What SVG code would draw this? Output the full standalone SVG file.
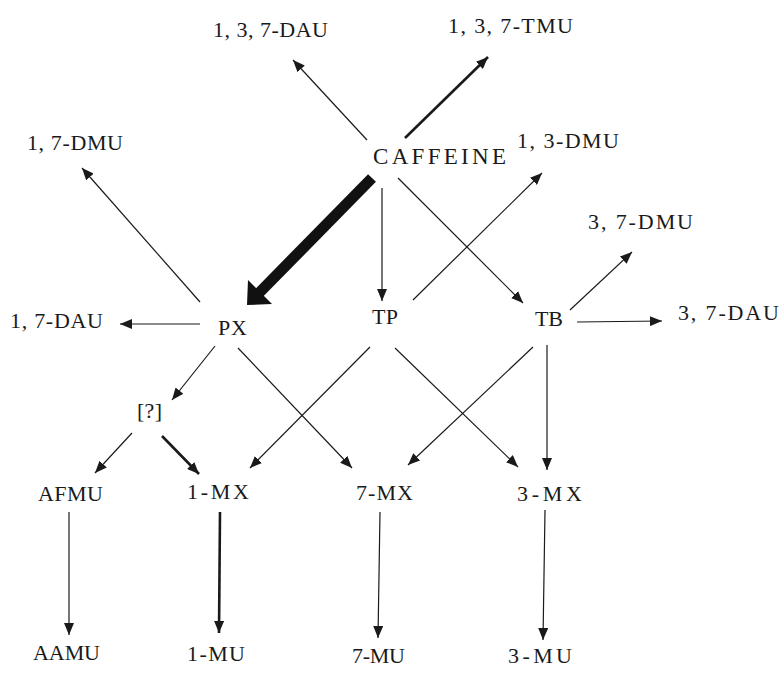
<svg xmlns="http://www.w3.org/2000/svg" width="782" height="673" viewBox="0 0 782 673">
<style>
  .lbl { font-family: "Liberation Serif", "Times New Roman", serif; font-size: 22px; fill: #1a1a1a; text-anchor: start; }
  .big { font-size: 23px; }
  .c { fill: none; stroke: #1a1a1a; stroke-width: 1.2; marker-end: url(#ah); }
  .m { stroke-width: 2.6; }
</style>
<defs>
  <marker id="ah" markerUnits="userSpaceOnUse" markerWidth="12" markerHeight="10" refX="12" refY="5" orient="auto">
    <path d="M0,0 L12,5 L0,10 z" fill="#1a1a1a"/>
  </marker>
</defs>
<rect width="782" height="673" fill="#ffffff"/>

<g id="connectors">
  <line class="c" x1="367" y1="140" x2="293" y2="60"/>
  <line class="c m" x1="405" y1="138" x2="488" y2="57"/>
  <g id="thick-arrow">
    <line x1="372" y1="178" x2="259" y2="293" stroke="#111" stroke-width="11"/>
    <polygon points="247,305 248,280 272,304" fill="#111"/>
  </g>
  <line class="c" x1="382" y1="188" x2="382" y2="301"/>
  <line class="c" x1="398" y1="178" x2="523" y2="303"/>
  <line class="c" x1="200" y1="302" x2="82" y2="168"/>
  <line class="c" x1="200" y1="324" x2="120" y2="324"/>
  <line class="c" x1="413" y1="300" x2="542" y2="173"/>
  <line class="c" x1="570" y1="310" x2="632" y2="252"/>
  <line class="c" x1="577" y1="322" x2="662" y2="321"/>
  <line class="c" x1="215" y1="346" x2="172" y2="400"/>
  <line class="c" x1="238" y1="348" x2="352" y2="468"/>
  <line class="c" x1="370" y1="347" x2="250" y2="468"/>
  <line class="c" x1="395" y1="348" x2="518" y2="467"/>
  <line class="c" x1="533" y1="347" x2="408" y2="465"/>
  <line class="c" x1="547" y1="345" x2="547" y2="470"/>
  <line class="c" x1="132" y1="433" x2="95" y2="473"/>
  <line class="c m" x1="162" y1="436" x2="199" y2="474"/>
  <line class="c" x1="69" y1="512" x2="69" y2="635"/>
  <line class="c m" x1="220" y1="512" x2="219" y2="633"/>
  <line class="c" x1="380" y1="512" x2="378" y2="638"/>
  <line class="c" x1="545" y1="510" x2="543" y2="640"/>
</g>

<g id="n-137dau"><text class="lbl" x="213" y="37" textLength="115" lengthAdjust="spacing">1, 3, 7-DAU</text></g>
<g id="n-137tmu"><text class="lbl" x="448" y="33" textLength="125" lengthAdjust="spacing">1, 3, 7-TMU</text></g>
<g id="n-17dmu"><text class="lbl" x="27" y="150" textLength="96" lengthAdjust="spacing">1, 7-DMU</text></g>
<g id="n-caffeine"><text class="lbl big" x="373" y="164" textLength="133" lengthAdjust="spacing">CAFFEINE</text></g>
<g id="n-13dmu"><text class="lbl" x="517" y="148" textLength="102" lengthAdjust="spacing">1, 3-DMU</text></g>
<g id="n-37dmu"><text class="lbl" x="588" y="229" textLength="105" lengthAdjust="spacing">3, 7-DMU</text></g>
<g id="n-17dau"><text class="lbl" x="10" y="328" textLength="93" lengthAdjust="spacing">1, 7-DAU</text></g>
<g id="n-px"><text class="lbl" x="218" y="335" textLength="29" lengthAdjust="spacing">PX</text></g>
<g id="n-tp"><text class="lbl" x="372" y="324" textLength="26" lengthAdjust="spacing">TP</text></g>
<g id="n-tb"><text class="lbl" x="535" y="326" textLength="28" lengthAdjust="spacing">TB</text></g>
<g id="n-37dau"><text class="lbl" x="678" y="320" textLength="101" lengthAdjust="spacing">3, 7-DAU</text></g>
<g id="n-q"><text class="lbl" x="137" y="418" textLength="25" lengthAdjust="spacing">[?]</text></g>
<g id="n-afmu"><text class="lbl" x="38" y="501" textLength="65" lengthAdjust="spacing">AFMU</text></g>
<g id="n-1mx"><text class="lbl" x="187" y="499" textLength="62" lengthAdjust="spacing">1-MX</text></g>
<g id="n-7mx"><text class="lbl" x="356" y="500" textLength="57" lengthAdjust="spacing">7-MX</text></g>
<g id="n-3mx"><text class="lbl" x="517" y="501" textLength="65" lengthAdjust="spacing">3-MX</text></g>
<g id="n-aamu"><text class="lbl" x="33" y="660" textLength="67" lengthAdjust="spacing">AAMU</text></g>
<g id="n-1mu"><text class="lbl" x="187" y="661" textLength="58" lengthAdjust="spacing">1-MU</text></g>
<g id="n-7mu"><text class="lbl" x="352" y="663" textLength="53" lengthAdjust="spacing">7-MU</text></g>
<g id="n-3mu"><text class="lbl" x="508" y="663" textLength="64" lengthAdjust="spacing">3-MU</text></g>
</svg>
